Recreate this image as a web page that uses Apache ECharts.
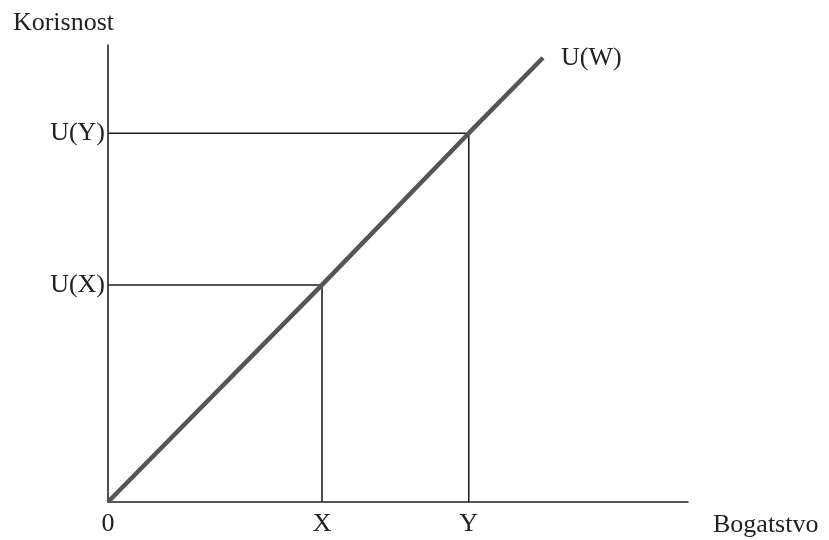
<!DOCTYPE html>
<html>
<head>
<meta charset="utf-8">
<script src="https://cdn.jsdelivr.net/npm/echarts@6/dist/echarts.min.js"></script>
<style>
  html, body { margin: 0; padding: 0; background: #fff; }
  #chart { width: 829px; height: 540px; }
</style>
</head>
<body>
<div id="chart"></div>
<script>
// wealth (x) and utility (y) on a 0..100 scale
const wealth = [0, 36.9, 62.2, 75.0];
const utility = [0, 47.5, 80.7, 97.2];
const xTickValues = [0, 36.9, 62.2];
const xTickLabels = ['0', 'X', 'Y'];
const yTickValues = [47.5, 80.7];
const yTickLabels = ['U(X)', 'U(Y)'];

const font = 'Liberation Serif';
const ink = '#222';
const fs = 26;

const chart = echarts.init(document.getElementById('chart'), null, { renderer: 'canvas' });

const curve = wealth.map((w, i) => [w, utility[i]]);

// guide lines from each point to both axes
const guide = (i) => ({
  type: 'line',
  data: [[0, utility[i]], [wealth[i], utility[i]], [wealth[i], 0]],
  symbol: 'none',
  silent: true,
  lineStyle: { color: ink, width: 1.6 }
});

chart.setOption({
  backgroundColor: '#fff',
  animation: false,
  grid: { left: 108, right: 141, top: 45, bottom: 38 },
  xAxis: {
    type: 'value',
    min: 0,
    max: 100,
    name: 'Bogatstvo',
    nameLocation: 'end',
    nameGap: 25,
    nameTextStyle: {
      fontFamily: font, fontSize: fs, color: ink,
      align: 'left', verticalAlign: 'top', padding: [10, 0, 0, 0]
    },
    axisLine: { lineStyle: { color: ink, width: 1.6 } },
    axisTick: { show: false },
    splitLine: { show: false },
    axisLabel: {
      customValues: xTickValues,
      formatter: (v) => xTickLabels[xTickValues.indexOf(v)],
      fontFamily: font, fontSize: fs, color: ink, margin: 9
    }
  },
  yAxis: {
    type: 'value',
    min: 0,
    max: 100,
    name: 'Korisnost',
    nameLocation: 'end',
    nameGap: 9,
    nameTextStyle: {
      fontFamily: font, fontSize: fs, color: ink,
      align: 'right', verticalAlign: 'bottom', padding: [0, -6, 0, 0]
    },
    axisLine: { lineStyle: { color: ink, width: 1.6 } },
    axisTick: { show: false },
    splitLine: { show: false },
    axisLabel: {
      customValues: yTickValues,
      formatter: (v) => yTickLabels[yTickValues.indexOf(v)],
      fontFamily: font, fontSize: fs, color: ink, margin: 3, padding: [6, 0, 0, 0]
    }
  },
  series: [
    guide(1),
    guide(2),
    {
      type: 'line',
      data: curve,
      symbol: 'none',
      z: 5,
      lineStyle: { color: '#555', width: 4.5 },
      endLabel: {
        show: true,
        formatter: 'U(W)',
        distance: 18,
        fontFamily: font,
        fontSize: fs,
        color: ink
      }
    }
  ]
});
</script>
</body>
</html>
